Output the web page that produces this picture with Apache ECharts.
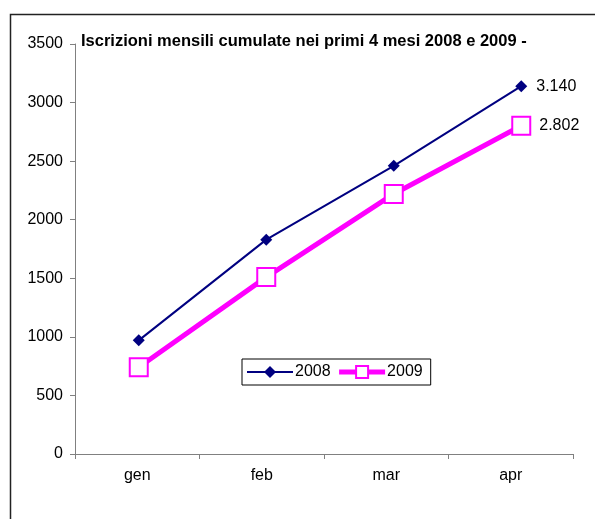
<!DOCTYPE html>
<html>
<head>
<meta charset="utf-8">
<script src="https://cdn.jsdelivr.net/npm/echarts@6/dist/echarts.min.js"></script>
<style>
  html, body { margin: 0; padding: 0; background: #fff; }
  #chart { width: 595px; height: 519px; }
</style>
</head>
<body>
<div id="chart"></div>
<script>
// Cumulative monthly enrolments, first four months of 2008 and 2009
const months = ['gen', 'feb', 'mar', 'apr'];
const values2008 = [970, 1830, 2460, 3140];
const values2009 = [740, 1510, 2220, 2802];
const yTicks = { min: 0, max: 3500, step: 500 };

// Italian thousands separator: 3140 -> "3.140"
function itNumber(v) {
  return String(v).replace(/\B(?=(\d{3})+(?!\d))/g, '.');
}

// Only the last point of each series carries a value label
function withEndLabel(arr) {
  return arr.map((v, i) => i === arr.length - 1
    ? { value: v, label: { show: true } }
    : v);
}

const axisGray = '#808080';
const font = 'Liberation Sans, Arial, sans-serif';
const navy = '#000080';
const magenta = '#ff00ff';

const chart = echarts.init(document.getElementById('chart'), null, { renderer: 'canvas' });
chart.setOption({
  animation: false,
  backgroundColor: '#ffffff',
  title: {
    text: 'Iscrizioni mensili cumulate nei primi 4 mesi 2008 e 2009 -',
    left: 76,
    top: 28,
    textStyle: { fontFamily: font, fontSize: 16.5, fontWeight: 'bold', color: '#000' }
  },
  legend: {
    data: [
      { name: '2008', lineStyle: { width: 2 } },
      { name: '2009', lineStyle: { width: 5 } }
    ],
    left: 242,
    top: 359,
    orient: 'horizontal',
    itemWidth: 46,
    itemHeight: 15,
    itemGap: 6,
    padding: [5, 8, 5, 4],
    borderColor: '#000',
    borderWidth: 1,
    textStyle: { fontFamily: font, fontSize: 16, color: '#000', padding: [0, 0, 0, -3] }
  },
  grid: [
    // axis frame (ticks and labels)
    { left: 75, right: 22, top: 44, bottom: 65, containLabel: false },
    // plotting area for the series
    { left: 75, right: 10, top: 44, bottom: 65, containLabel: false }
  ],
  xAxis: [
    {
      gridIndex: 0,
      type: 'category',
      data: months,
      boundaryGap: true,
      axisLine: { show: true, lineStyle: { color: axisGray, width: 1 } },
      axisTick: { show: true, length: 5, lineStyle: { color: axisGray } },
      axisLabel: { margin: 14, fontFamily: font, fontSize: 16, color: '#000' },
      splitLine: { show: false }
    },
    {
      gridIndex: 1,
      type: 'category',
      data: months,
      boundaryGap: true,
      show: false
    }
  ],
  yAxis: [
    {
      gridIndex: 0,
      type: 'value',
      min: yTicks.min,
      max: yTicks.max,
      interval: yTicks.step,
      axisLine: { show: true, lineStyle: { color: axisGray, width: 1 } },
      axisTick: { show: true, length: 5, lineStyle: { color: axisGray } },
      axisLabel: {
        margin: 12, fontFamily: font, fontSize: 16, color: '#000',
        formatter: v => String(v)
      },
      splitLine: { show: false }
    },
    {
      gridIndex: 1,
      type: 'value',
      min: yTicks.min,
      max: yTicks.max,
      interval: yTicks.step,
      show: false,
      splitLine: { show: false }
    }
  ],
  series: [
    {
      name: '2008',
      type: 'line',
      xAxisIndex: 1,
      yAxisIndex: 1,
      data: withEndLabel(values2008),
      symbol: 'diamond',
      symbolSize: 12,
      z: 3,
      lineStyle: { color: navy, width: 2 },
      itemStyle: { color: navy, borderColor: navy, borderWidth: 0 },
      label: {
        show: false,
        position: 'right',
        distance: 9,
        fontFamily: font,
        fontSize: 16,
        color: '#000',
        formatter: p => itNumber(p.value)
      }
    },
    {
      name: '2009',
      type: 'line',
      xAxisIndex: 1,
      yAxisIndex: 1,
      data: withEndLabel(values2009),
      symbol: 'rect',
      symbolSize: 18,
      z: 2,
      lineStyle: { color: magenta, width: 5 },
      itemStyle: { color: '#ffffff', borderColor: magenta, borderWidth: 2 },
      label: {
        show: false,
        position: 'right',
        distance: 8,
        fontFamily: font,
        fontSize: 16,
        color: '#000',
        formatter: p => itNumber(p.value)
      }
    }
  ],
  graphic: [
    {
      type: 'rect',
      left: 8,
      top: 12,
      shape: { width: 600, height: 520 },
      style: { fill: null, stroke: '#222', lineWidth: 1.5 },
      silent: true
    }
  ]
});
</script>
</body>
</html>
